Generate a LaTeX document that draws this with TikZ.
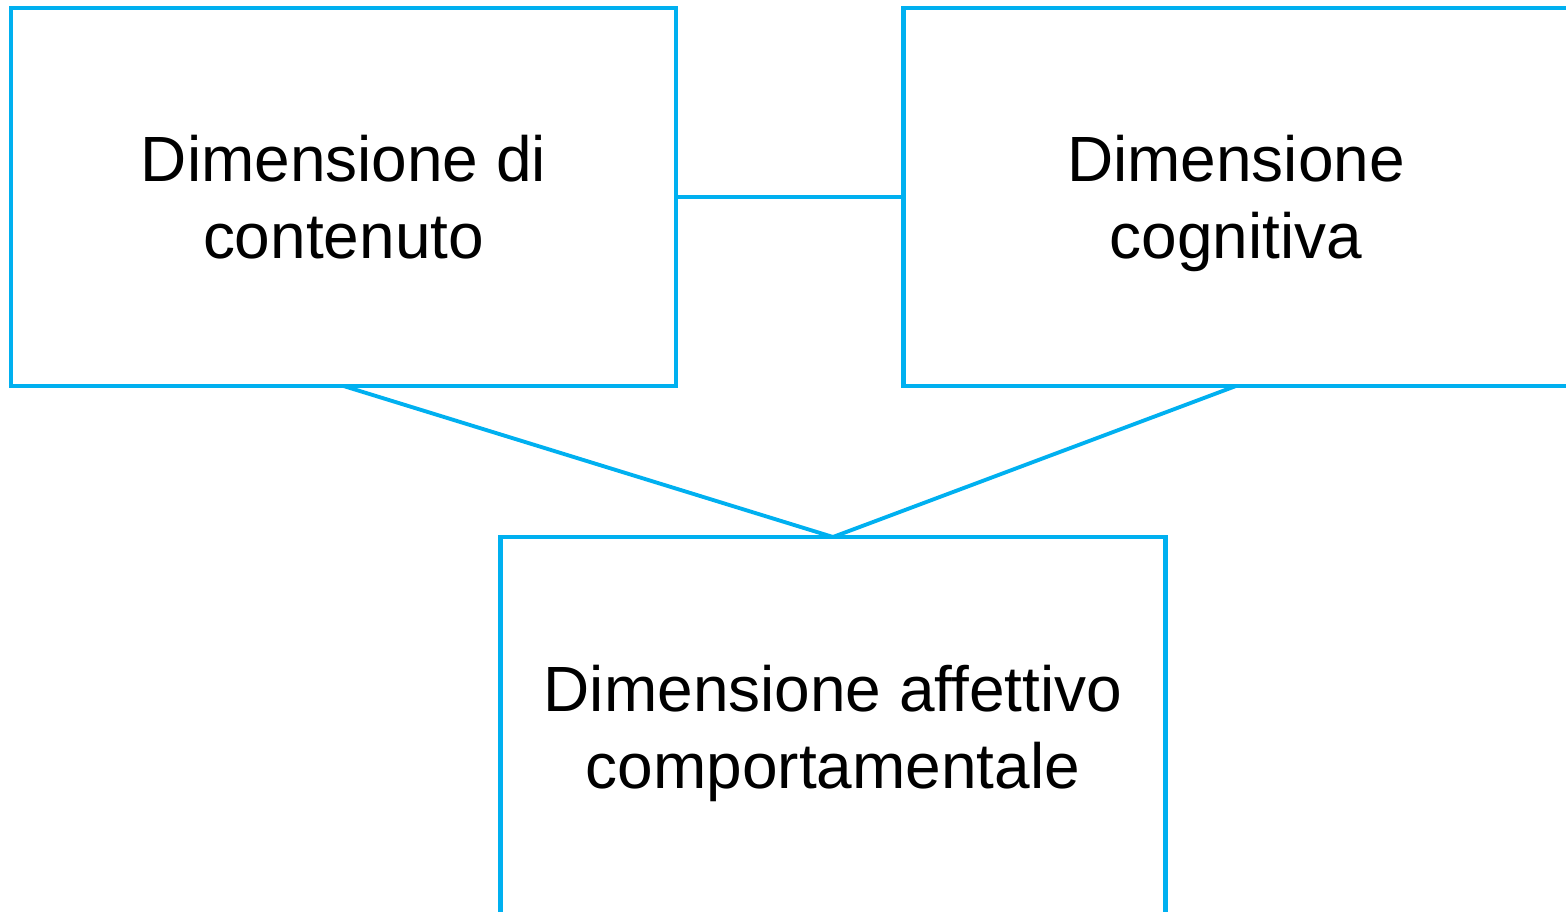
\documentclass[tikz,border=0pt]{standalone}
\usepackage{fontspec}
\setmainfont{Liberation Sans}
\usepackage{tikz}
\usetikzlibrary{positioning}
\definecolor{boxblue}{HTML}{00B0F0}

\tikzset{
  dimbox/.style={draw=boxblue, line width=1.4pt, rectangle, outer sep=0pt,
    minimum width=6.65cm, minimum height=3.78cm, align=center,
    font=\fontsize{18.2}{21.9}\selectfont},
  dimlink/.style={draw=boxblue, line width=1.1pt}
}

\begin{document}
\begin{tikzpicture}

\useasboundingbox (0,0) rectangle (15.66,9.12);
\clip (0,0) rectangle (15.66,9.12);

%%% le tre dimensioni
\node[dimbox] (contenuto) at (3.435,7.15) {Dimensione di\\contenuto};
\node[dimbox] (cognitiva) at (12.36,7.15) {};
\node[align=center, font=\fontsize{18.2}{21.9}\selectfont] (cognitivatxt)
  at ([yshift=-0.06cm]cognitiva.center) {Dimensione\\cognitiva};
\node[dimbox] (affettivo) at (8.33,1.86) {};
\node[align=center, font=\fontsize{18.2}{21.9}\selectfont] (affettivotxt)
  at ([yshift=-0.07cm]affettivo.center) {Dimensione affettivo\\comportamentale};

%%% collegamenti
\draw[dimlink] (contenuto.east) -- (cognitiva.west);
\draw[dimlink] (contenuto.south) -- (affettivo.north);
\draw[dimlink] (cognitiva.south) -- (affettivo.north);

\end{tikzpicture}
\end{document}
